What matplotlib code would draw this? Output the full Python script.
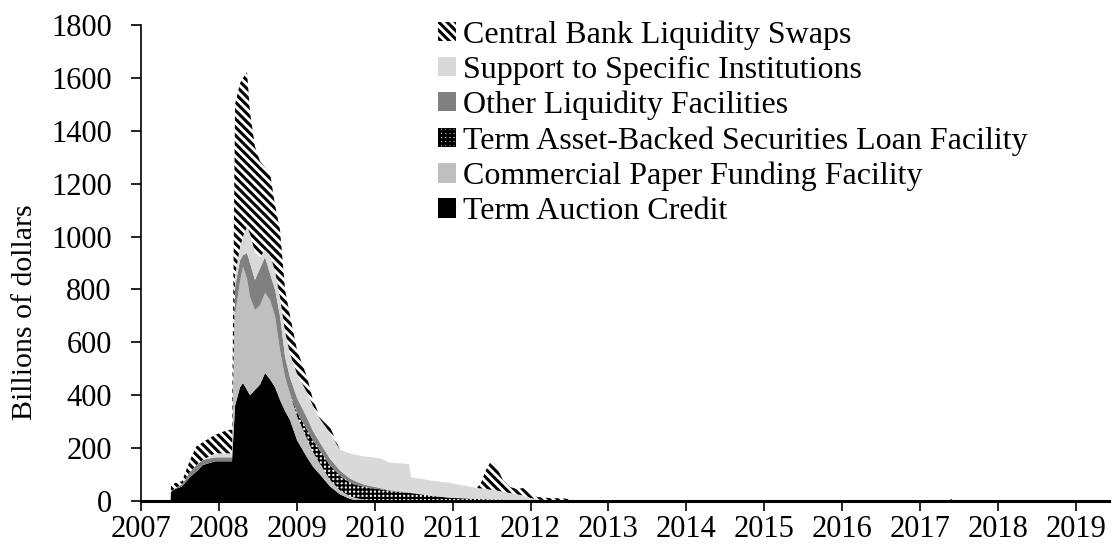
import matplotlib
matplotlib.use("Agg")
import matplotlib.pyplot as plt
import numpy as np
from matplotlib.patches import Patch

plt.rcParams['font.family'] = ['Liberation Serif', 'DejaVu Serif']

# ---- data (billions of dollars), x in decimal years as placed on the chart axis ----
years = [2007.380, 2007.385, 2007.436, 2007.526, 2007.629, 2007.706, 2007.796, 2007.950,
         2008.104, 2008.168, 2008.207, 2008.271, 2008.309, 2008.361, 2008.399, 2008.463,
         2008.528, 2008.592, 2008.656, 2008.720, 2008.784, 2008.849, 2008.913, 2009.003,
         2009.131, 2009.208, 2009.298, 2009.426, 2009.555, 2009.683, 2009.773, 2009.875,
         2010.068, 2010.196, 2010.440, 2010.466, 2010.710, 2010.967, 2011.313, 2011.377,
         2011.416, 2011.480, 2011.544, 2011.647, 2011.737, 2011.827, 2011.904, 2011.994,
         2012.083, 2012.250, 2012.417, 2012.571, 2012.764, 2012.892, 2017.380, 2017.395,
         2017.425, 2017.440, 2019.450]

term_auction_credit = [0, 35, 45, 55, 90, 110, 136, 150,
                       150, 150, 360, 430, 446, 420, 400, 420,
                       440, 484, 460, 431, 382, 340, 306, 230,
                       165, 130, 100, 55, 25, 8, 2, 0,
                       0, 0, 0, 0, 0, 0, 0, 0,
                       0, 0, 0, 0, 0, 0, 0, 0,
                       0, 0, 0, 0, 0, 0, 0, 0,
                       0, 0, 0]

commercial_paper = [0, 0, 0, 0, 0, 0, 0, 0,
                    0, 0, 340, 400, 440, 420, 372, 302,
                    300, 303, 300, 269, 189, 129, 100, 90,
                    70, 55, 40, 25, 15, 10, 8, 5,
                    2, 0, 0, 0, 0, 0, 0, 0,
                    0, 0, 0, 0, 0, 0, 0, 0,
                    0, 0, 0, 0, 0, 0, 0, 0,
                    0, 0, 0]

talf = [0, 0, 0, 0, 0, 0, 0, 0,
        0, 0, 0, 0, 0, 0, 0, 0,
        0, 0, 0, 0, 0, 0, 0, 15,
        35, 45, 50, 55, 55, 52, 50, 48,
        42, 38, 30, 30, 20, 12, 8, 7,
        7, 6, 6, 5, 4, 3, 3, 2,
        2, 1, 1, 0, 0, 0, 0, 0,
        0, 0, 0]

other_liquidity = [0, 0, 3, 8, 20, 25, 20, 15,
                   15, 15, 110, 80, 44, 98, 128, 114,
                   140, 136, 100, 100, 129, 76, 60, 55,
                   45, 35, 30, 25, 20, 15, 12, 8,
                   5, 3, 2, 2, 1, 1, 0, 0,
                   0, 0, 0, 0, 0, 0, 0, 0,
                   0, 0, 0, 0, 0, 0, 0, 0,
                   0, 0, 0]

specific_institutions = [0, 0, 0, 0, 0, 0, 0, 15,
                         15, 15, 40, 50, 70, 99, 110, 104,
                         43, 26, 70, 70, 70, 95, 90, 90,
                         95, 95, 90, 97, 78, 95, 102, 107,
                         113, 104, 108, 58, 57, 55, 41, 40,
                         39, 37, 35, 30, 26, 22, 18, 10,
                         4, 0, 0, 0, 0, 0, 0, 0,
                         0, 0, 0]

cb_swaps = [0, 20, 20, 12, 45, 70, 67, 70,
            88, 90, 650, 620, 600, 585, 460, 400,
            362, 313, 310, 250, 255, 160, 144, 91,
            59, 22, 8, 23, 0, 0, 0, 0,
            0, 0, 0, 0, 0, 0, 0, 30,
            65, 102, 100, 44, 23, 20, 28, 18,
            9, 10, 9, 3, 2, 0, 0, 8,
            8, 0, 0]

series_labels = ["Term Auction Credit", "Commercial Paper Funding Facility",
                 "Term Asset-Backed Securities Loan Facility", "Other Liquidity Facilities",
                 "Support to Specific Institutions", "Central Bank Liquidity Swaps"]
year_ticks = list(range(2007, 2020))
y_ticks = list(range(0, 2000, 200))

# ---- styles ----
styles = [
    dict(facecolor="#000000", edgecolor="#000000", hatch=None),
    dict(facecolor="#bfbfbf", edgecolor="#bfbfbf", hatch=None),
    dict(facecolor="#ffffff", edgecolor="#000000", hatch="++++"),
    dict(facecolor="#808080", edgecolor="#808080", hatch=None),
    dict(facecolor="#d9d9d9", edgecolor="#d9d9d9", hatch=None),
    dict(facecolor="#ffffff", edgecolor="#000000", hatch="\\\\\\\\"),
]

plt.rcParams['hatch.linewidth'] = 2.2

W, H = 1111, 550
fig = plt.figure(figsize=(W / 100, H / 100), dpi=100)
ax = fig.add_axes([141 / W, 1 - 501 / H, (1111 - 141) / W, (501 - 25) / H])

x = np.array(years)
stack = [np.array(s, dtype=float) for s in
         [term_auction_credit, commercial_paper, talf, other_liquidity,
          specific_institutions, cb_swaps]]
base = np.zeros_like(x)
handles = []
for vals, st, lab in zip(stack, styles, series_labels):
    top = base + vals
    coll = ax.fill_between(x, base, top, facecolor=st["facecolor"],
                           edgecolor=st["edgecolor"] if st["hatch"] else "none",
                           hatch=st["hatch"], linewidth=0)
    hlw = None
    if st["hatch"]:
        hlw = 2.2 if st["hatch"].startswith("\\") else 1.5
        if hasattr(coll, "set_hatch_linewidth"):
            coll.set_hatch_linewidth(hlw)
    p = Patch(facecolor=st["facecolor"],
              edgecolor=st["edgecolor"] if st["hatch"] else st["facecolor"],
              hatch=st["hatch"], linewidth=0, label=lab)
    if hlw and hasattr(p, "set_hatch_linewidth"):
        p.set_hatch_linewidth(hlw)
    handles.append(p)
    base = top

ax.set_xlim(2007, 2019.45)
ax.set_ylim(0, 1800)
ax.set_xticks(year_ticks)
ax.set_xticklabels([str(y) for y in year_ticks])
ax.set_yticks(y_ticks)
ax.tick_params(axis='both', labelsize=22, direction='out', length=7, width=1.2,
               color='black')
ax.tick_params(axis='x', pad=3)
ax.tick_params(axis='y', pad=14)
for side in ['top', 'right']:
    ax.spines[side].set_visible(False)
ax.spines['left'].set_linewidth(1.2)
ax.spines['bottom'].set_linewidth(2.2)
ax.spines['bottom'].set_zorder(5)

fig.text(25 / W, 1 - 312 / H, "Billions of dollars", rotation=90, fontsize=21.5,
         ha='center', va='center')

leg = fig.legend(handles=handles[::-1], loc='upper left',
                 bbox_to_anchor=(438 / W, 1 - 20 / H), frameon=False,
                 fontsize=23, handlelength=0.55, handleheight=0.55,
                 handletextpad=0.23, labelspacing=0.19, borderpad=0, borderaxespad=0)

fig.savefig("out.png", dpi=100)
